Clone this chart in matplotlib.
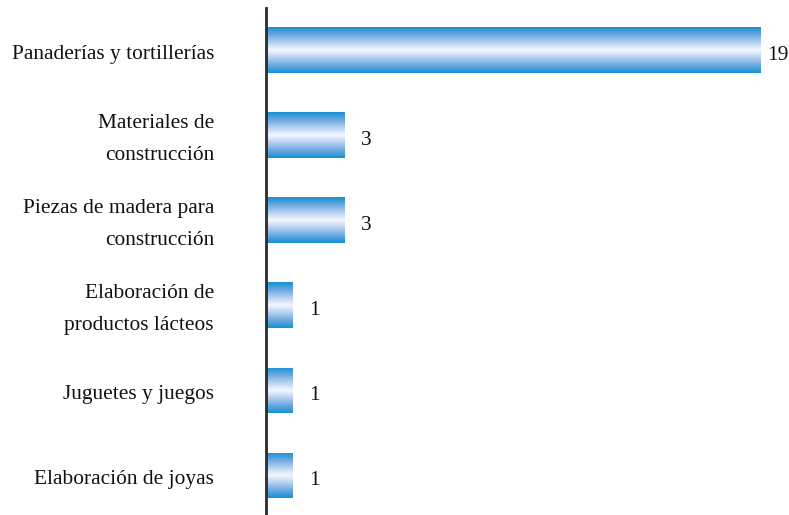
import matplotlib
matplotlib.use("Agg")
import matplotlib.pyplot as plt
import numpy as np
from matplotlib.colors import LinearSegmentedColormap

categories = [
    "Panaderías y tortillerías",
    "Materiales de\nconstrucción",
    "Piezas de madera para\nconstrucción",
    "Elaboración de\nproductos lácteos",
    "Juguetes y juegos",
    "Elaboración de joyas",
]
values = [19, 3, 3, 1, 1, 1]

plt.rcParams['font.family'] = ['Liberation Serif', 'DejaVu Serif']
FS = 15.4

fig = plt.figure(figsize=(7.89, 5.15), dpi=100)
ax = fig.add_axes([266/789, 0, 1 - 266/789 - 0.01, 1 - 8/515])

bar_h = 0.53
ypos = np.arange(len(categories))
bars = ax.barh(ypos, values, height=bar_h, color='none', edgecolor='none')

cmap = LinearSegmentedColormap.from_list(
    "grad", ["#1590d0", "#6aa8e0", "#b5d0f0", "#f4f7ff", "#b5d0f0", "#6aa8e0", "#1590d0"])
grad = np.linspace(0, 1, 256).reshape(-1, 1)
for b in bars:
    x0, y0 = b.get_x(), b.get_y()
    w, h = b.get_width(), b.get_height()
    im = ax.imshow(grad, cmap=cmap, aspect='auto', extent=[x0, x0 + w, y0 + h, y0],
                   interpolation='bicubic', zorder=2)
    im.set_clip_path(b)

vmax = max(values)
for y, v in zip(ypos, values):
    dx = 5 if v == vmax else 12
    ax.annotate(str(v), (v, y), xytext=(dx, -4), textcoords='offset points',
                va='center', ha='left', fontsize=FS, color='#111111')

# category labels, right-aligned left of the axis line
ytrans = ax.get_yaxis_transform()
for y, lab in zip(ypos, categories):
    ax.annotate(lab, (0, y), xycoords=ytrans, xytext=(-37.5, -3),
                textcoords='offset points', ha='right', va='center',
                multialignment='right', fontsize=FS, color='#111111',
                linespacing=1.95, annotation_clip=False)

ax.set_xlim(0, (781 - 266) / 26)
ax.set_ylim(5.47, -0.494)
ax.set_yticks([])
ax.set_xticks([])
for s in ['top', 'right', 'bottom']:
    ax.spines[s].set_visible(False)
ax.spines['left'].set_color('#2b2b2b')
ax.spines['left'].set_linewidth(2)
ax.spines['left'].set_zorder(3)

fig.savefig("out.png", dpi=100)
